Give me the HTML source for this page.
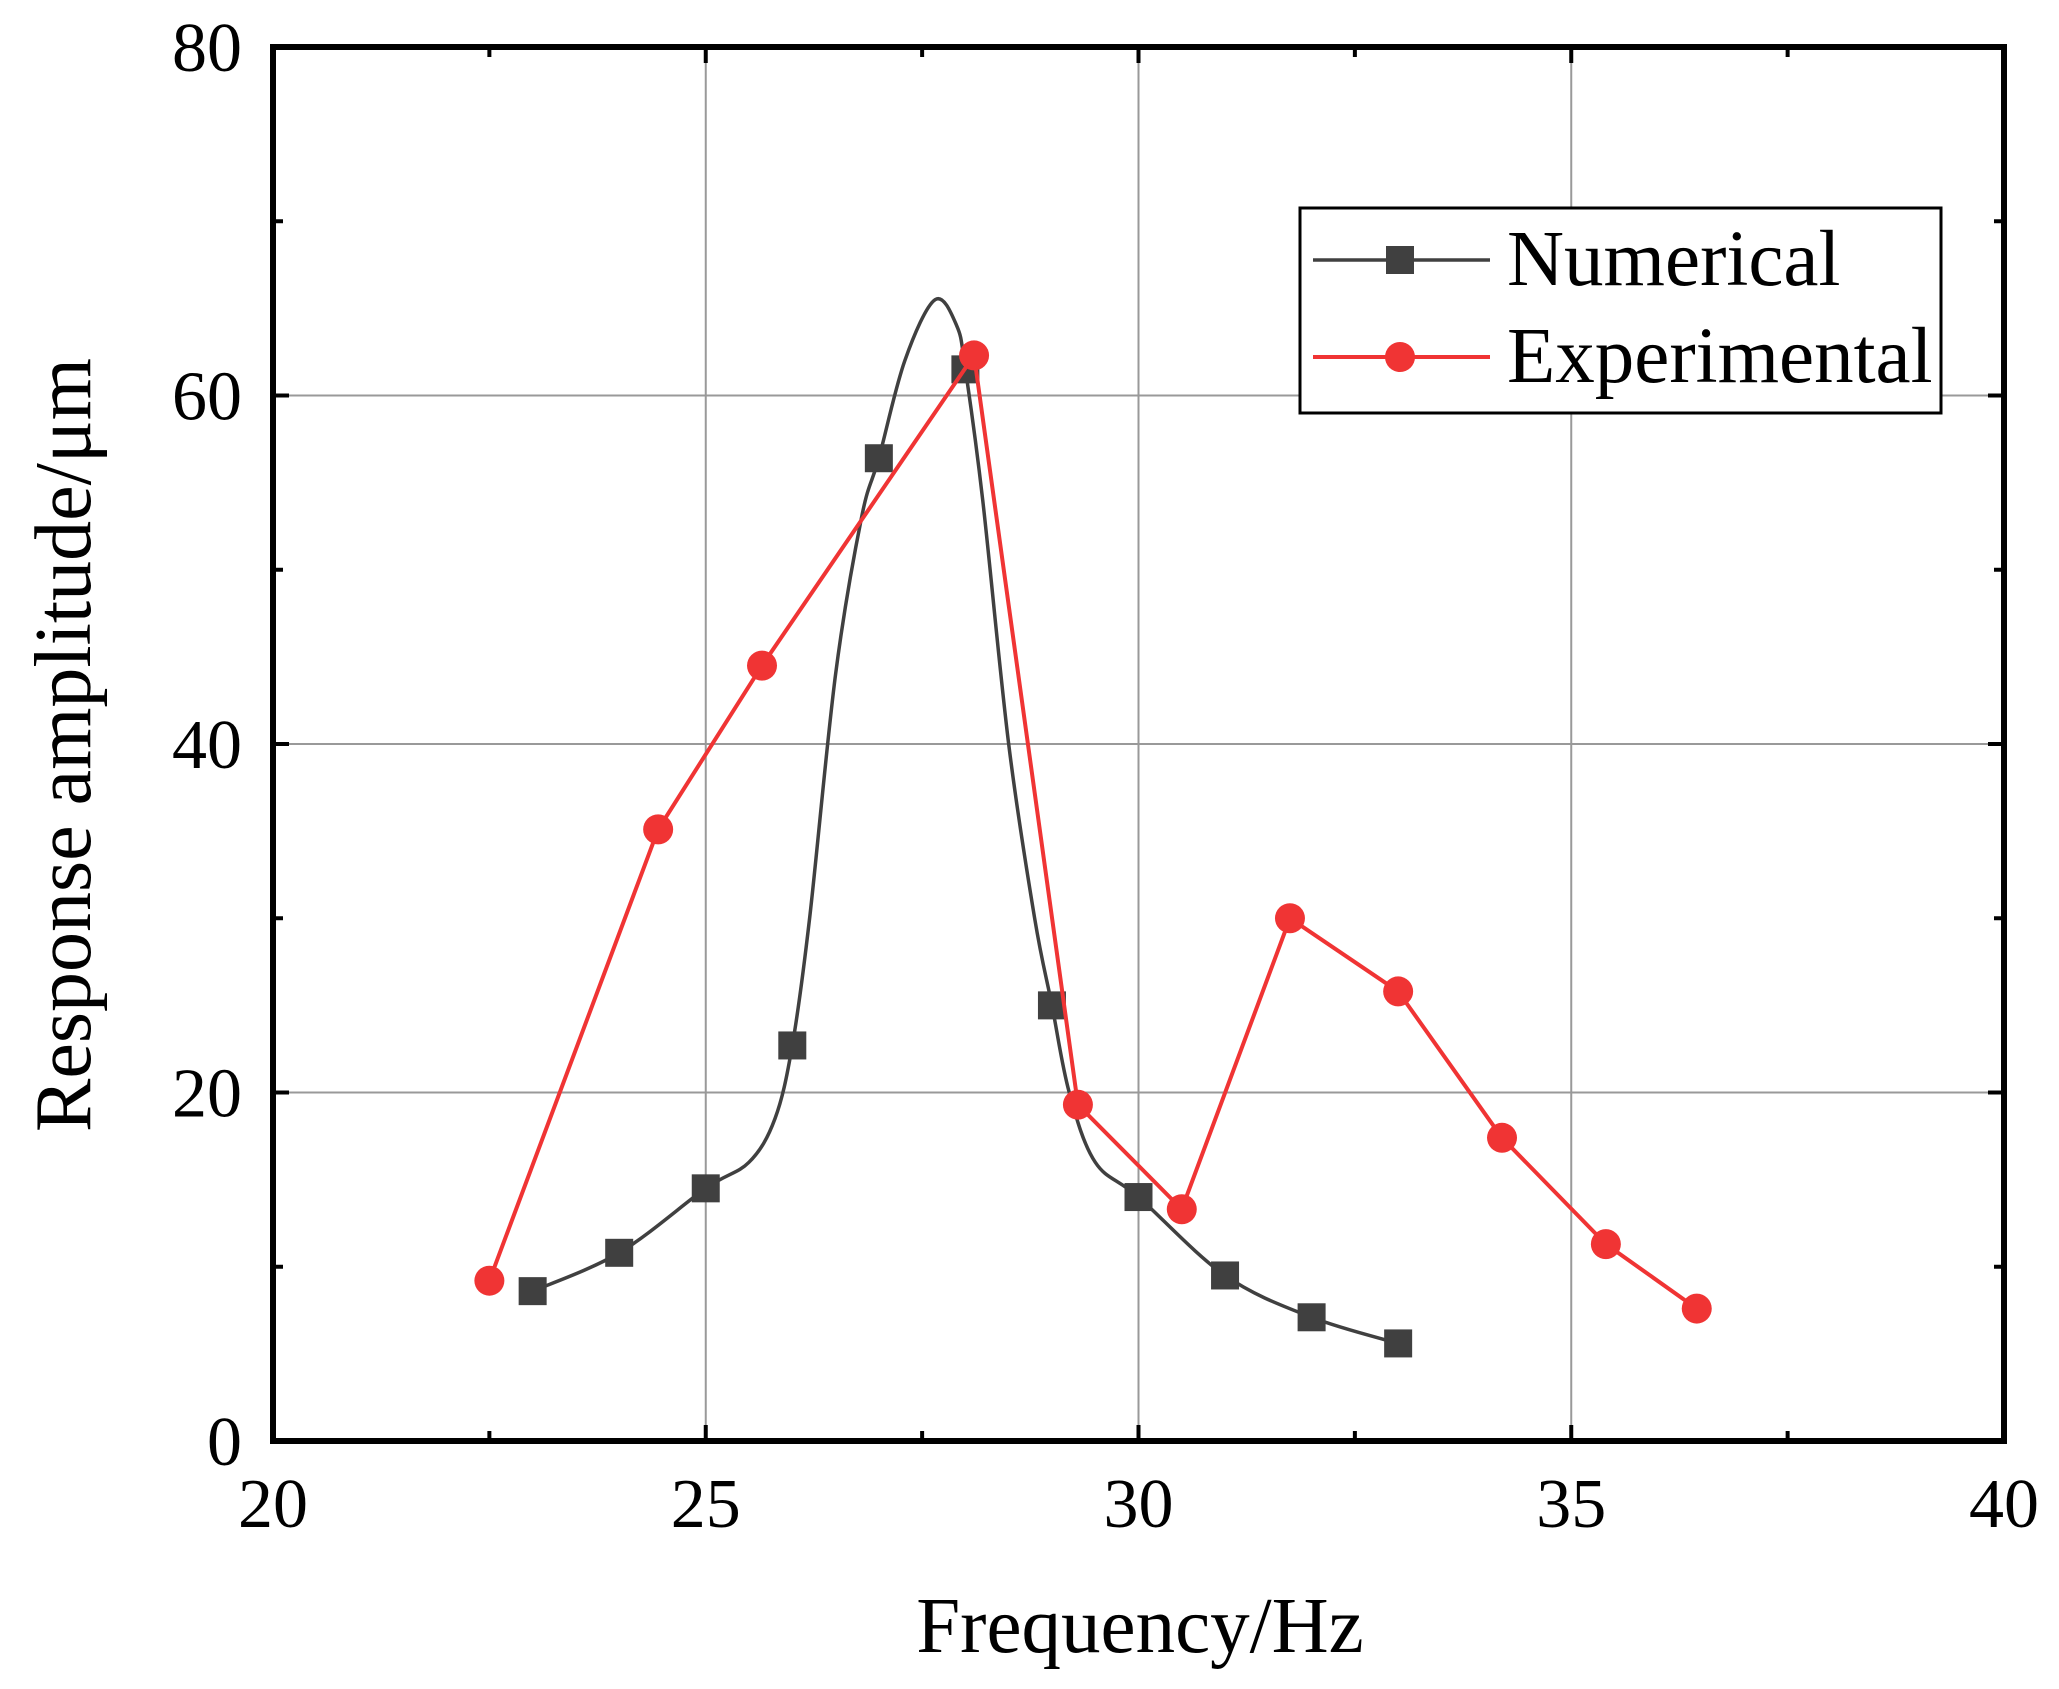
<!DOCTYPE html>
<html><head><style>body{margin:0;background:#fff}svg{display:block}</style></head>
<body>
<svg id="s" width="2059" height="1689" xmlns="http://www.w3.org/2000/svg" font-family="Liberation Serif, serif"></svg>
<script>
const s=document.getElementById('s');
const X=v=>273+(v-20)*86.55, Y=v=>1441-v*17.425;
let h='';
[25,30,35].forEach(v=>h+=`<line x1="${X(v)}" y1="47" x2="${X(v)}" y2="1441" stroke="#999" stroke-width="2"/>`);
[20,40,60].forEach(v=>h+=`<line x1="273" y1="${Y(v)}" x2="2004" y2="${Y(v)}" stroke="#999" stroke-width="2"/>`);
for(let v=20;v<=40;v+=2.5){const L=(v%5==0)?16:10;h+=`<line x1="${X(v)}" y1="1441" x2="${X(v)}" y2="${1441-L}" stroke="#000" stroke-width="4"/><line x1="${X(v)}" y1="47" x2="${X(v)}" y2="${47+L}" stroke="#000" stroke-width="4"/>`;}
for(let v=0;v<=80;v+=10){const L=(v%20==0)?16:10;h+=`<line x1="273" y1="${Y(v)}" x2="${273+L}" y2="${Y(v)}" stroke="#000" stroke-width="4"/><line x1="2004" y1="${Y(v)}" x2="${2004-L}" y2="${Y(v)}" stroke="#000" stroke-width="4"/>`;}
h+=`<rect x="273" y="47" width="1731" height="1394" fill="none" stroke="#000" stroke-width="6"/>`;
[20,25,30,35,40].forEach(v=>h+=`<text x="${X(v)}" y="1527" font-size="70" text-anchor="middle">${v}</text>`);
[0,20,40,60,80].forEach(v=>h+=`<text x="242" y="${Y(v)+24}" font-size="70" text-anchor="end">${v}</text>`);
h+=`<text x="1140" y="1652" font-size="79" text-anchor="middle">Frequency/Hz</text>`;
h+=`<text transform="translate(90,745) rotate(-90)" font-size="80" text-anchor="middle">Response amplitude/μm</text>`;
const cp=[[23,8.6],[24,10.8],[25,14.5],[25.5,16],[25.8,18.5],[26,22.7],[26.2,30],[26.5,44],[26.8,53],[27,56.4],[27.3,62],[27.65,65.5],[27.9,64],[28,61.5],[28.2,54],[28.5,40],[28.8,30],[29,25],[29.2,20],[29.5,16],[30,14],[31,9.5],[32,7.1],[33,5.6]];
function cr(p){let d=`M${X(p[0][0])},${Y(p[0][1])}`;for(let i=0;i<p.length-1;i++){const a=p[Math.max(0,i-1)],b=p[i],c=p[i+1],e=p[Math.min(p.length-1,i+2)];
const x1=X(b[0])+(X(c[0])-X(a[0]))/6,y1=Y(b[1])+(Y(c[1])-Y(a[1]))/6,x2=X(c[0])-(X(e[0])-X(b[0]))/6,y2=Y(c[1])-(Y(e[1])-Y(b[1]))/6;d+=`C${x1},${y1} ${x2},${y2} ${X(c[0])},${Y(c[1])}`;}return d;}
h+=`<path d="${cr(cp)}" fill="none" stroke="#404040" stroke-width="3.5"/>`;
const num=[[23,8.6],[24,10.8],[25,14.5],[26,22.7],[27,56.4],[28,61.5],[29,25],[30,14],[31,9.5],[32,7.1],[33,5.6]];
num.forEach(p=>h+=`<rect x="${X(p[0])-14}" y="${Y(p[1])-14}" width="28" height="28" fill="#404040"/>`);
const ex=[[22.5,9.2],[24.45,35.1],[25.65,44.5],[28.1,62.3],[29.3,19.3],[30.5,13.3],[31.75,30],[33,25.8],[34.2,17.4],[35.4,11.3],[36.45,7.6]];
h+=`<polyline points="${ex.map(p=>X(p[0])+','+Y(p[1])).join(' ')}" fill="none" stroke="#f03434" stroke-width="4"/>`;
ex.forEach(p=>h+=`<circle cx="${X(p[0])}" cy="${Y(p[1])}" r="15" fill="#f03434"/>`);
h+=`<rect x="1300" y="208" width="641" height="205" fill="#fff" stroke="#000" stroke-width="3"/>`;
h+=`<line x1="1313" y1="260" x2="1490" y2="260" stroke="#404040" stroke-width="3.5"/><rect x="1386" y="246" width="28" height="28" fill="#404040"/>`;
h+=`<line x1="1313" y1="357" x2="1490" y2="357" stroke="#f03434" stroke-width="4"/><circle cx="1400" cy="357" r="15" fill="#f03434"/>`;
h+=`<text x="1507" y="285" font-size="79">Numerical</text><text x="1507" y="382" font-size="79">Experimental</text>`;
s.innerHTML=h;
</script>
</body></html>
